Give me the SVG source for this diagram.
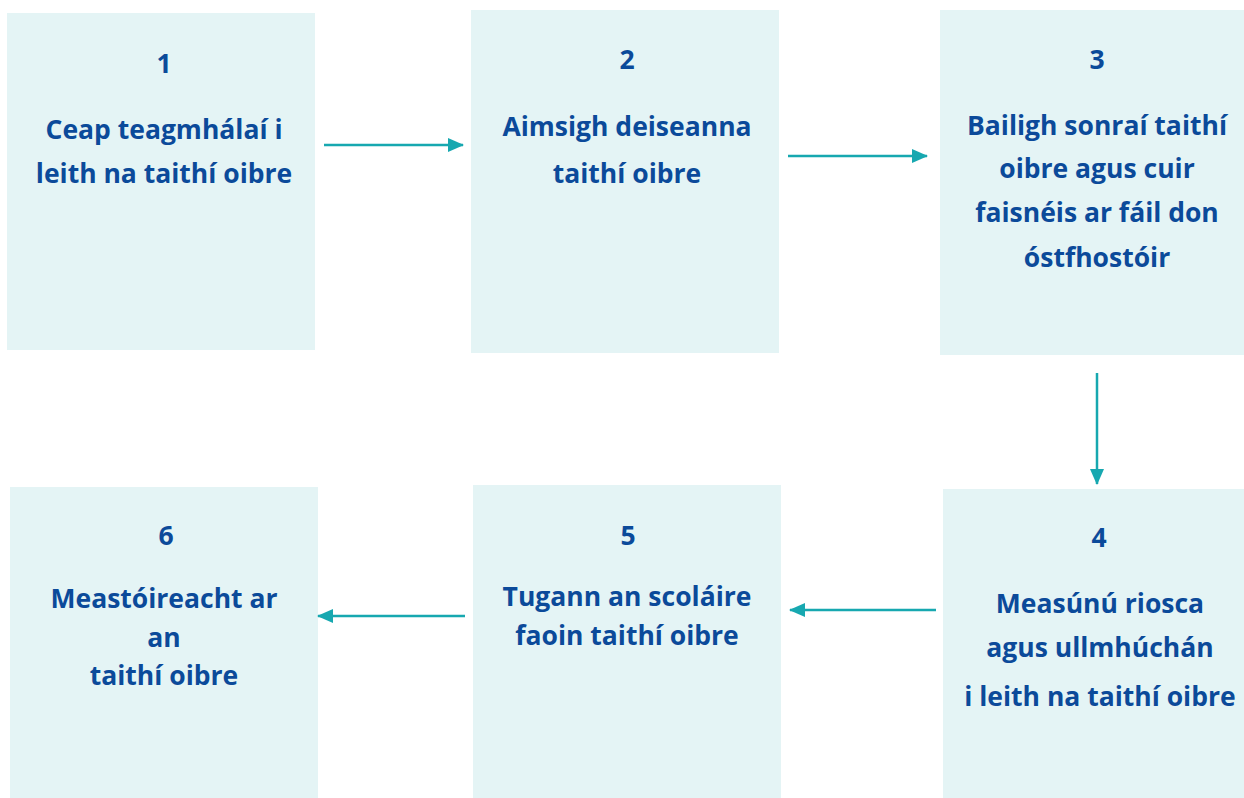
<svg xmlns="http://www.w3.org/2000/svg" width="1244" height="798" viewBox="0 0 1244 798">
<defs>
<style>
.box{fill:#E4F4F5}
.t{font-family:"Open Sans",Lato,"Liberation Sans",sans-serif;font-weight:bold;font-size:26.5px;fill:#0B4A9A;text-anchor:middle}
.c{stroke:#17A8B0;stroke-width:2.5;fill:none}
</style>
<marker id="ah" markerWidth="16" markerHeight="16" viewBox="0 0 16 16" refX="15" refY="8" orient="auto" markerUnits="userSpaceOnUse">
<path d="M0,1 L16,8 L0,15 Z" fill="#17A8B0"/>
</marker>
</defs>
<rect width="1244" height="798" fill="#fff"/>
<g id="node1"><rect class="box" x="7" y="13" width="308" height="337"/>
<text class="t" x="164" y="73">1</text>
<text class="t" x="164" y="139">Ceap teagmhálaí i</text>
<text class="t" x="164" y="183">leith na taithí oibre</text></g>
<g id="node2"><rect class="box" x="471" y="10" width="308" height="343"/>
<text class="t" x="627" y="69">2</text>
<text class="t" x="627" y="136">Aimsigh deiseanna</text>
<text class="t" x="627" y="183">taithí oibre</text></g>
<g id="node3"><rect class="box" x="940" y="10" width="304" height="345"/>
<text class="t" x="1097" y="69">3</text>
<text class="t" x="1097" y="135">Bailigh sonraí taithí</text>
<text class="t" x="1097" y="178">oibre agus cuir</text>
<text class="t" x="1097" y="222">faisnéis ar fáil don</text>
<text class="t" x="1097" y="267">óstfhostóir</text></g>
<g id="node4"><rect class="box" x="943" y="489" width="301" height="309"/>
<text class="t" x="1099" y="547">4</text>
<text class="t" x="1100" y="613">Measúnú riosca</text>
<text class="t" x="1100" y="657">agus ullmhúchán</text>
<text class="t" x="1100" y="706">i leith na taithí oibre</text></g>
<g id="node5"><rect class="box" x="473" y="485" width="308" height="313"/>
<text class="t" x="628" y="545">5</text>
<text class="t" x="627" y="606">Tugann an scoláire</text>
<text class="t" x="627" y="645">faoin taithí oibre</text></g>
<g id="node6"><rect class="box" x="10" y="487" width="308" height="311"/>
<text class="t" x="166" y="545">6</text>
<text class="t" x="164" y="608">Meastóireacht ar</text>
<text class="t" x="164" y="647">an</text>
<text class="t" x="164" y="685">taithí oibre</text></g>
<g id="connectors">
<line class="c" x1="324" y1="145" x2="463" y2="145" marker-end="url(#ah)"/>
<line class="c" x1="788" y1="156" x2="927" y2="156" marker-end="url(#ah)"/>
<line class="c" x1="1097" y1="373" x2="1097" y2="484" marker-end="url(#ah)"/>
<line class="c" x1="936" y1="610" x2="790" y2="610" marker-end="url(#ah)"/>
<line class="c" x1="465" y1="616" x2="318" y2="616" marker-end="url(#ah)"/>
</g>
</svg>
